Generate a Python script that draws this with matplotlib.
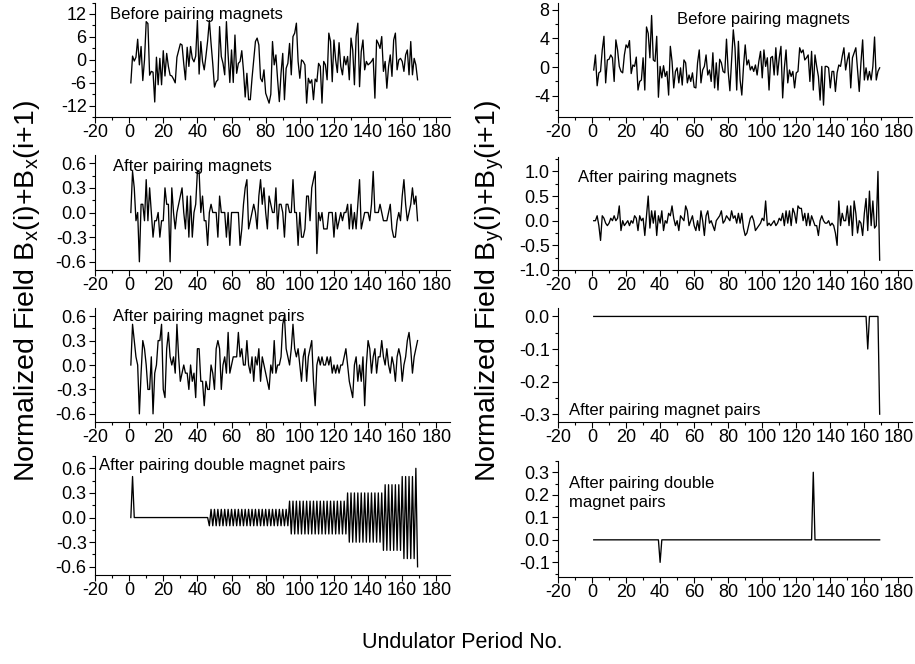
import numpy as np
import matplotlib.pyplot as plt
from matplotlib.ticker import MultipleLocator, FormatStrFormatter

plt.rcParams['font.family'] = ['Liberation Sans', 'DejaVu Sans']
plt.rcParams['mathtext.fontset'] = 'custom'
plt.rcParams['mathtext.rm'] = 'Liberation Sans'
plt.rcParams['axes.unicode_minus'] = False

# ---------------- field sums per undulator period ----------------
bx_before = [
    -6, 1, -0.3, 0.7, 5.4, -1.3, 3.5, -5.4, 0, 10,
    9.5, -4, -3, -3.2, -11, 0.7, -6.5, 0.4, -6.5, 2.4,
    -4.2, 1.7, -1.7, -4, -4.2, -5, -6, 0.7, 2.5, 4.2,
    3.9, -1, -5.2, 3.3, -1.7, 3.5, 0.4, -0.5, 1, 10.3,
    -3.7, 4.8, -0.4, -2.6, 1, 5, 10.3, 4.3, -1, -7.1,
    -5.7, -5.2, 8.7, 0.9, -0.9, -3.9, 10, 1.3, -5.9, 2.6,
    -5.9, 6.5, -3.5, -0.9, -0.4, 2.4, -2.8, -9.7, -3.5, -10.4,
    -10.4, -4.8, 0, 4.8, 5.7, 3.9, -4.8, -5.7, -2.6, -8.7,
    -10, -11.3, -9, 4.8, -1.3, 1.3, -5.2, -10.9, -3.5, 1.7,
    -10.4, -2.2, -0.9, 4.3, -3.9, 6.1, 7, 9.6, -0.4, -4.8,
    0, -0.4, -1.3, -11.3, -4.8, -6.1, -5.2, -10.4, -5, -5.7,
    -0.9, -1.7, -11.3, -0.4, -1.3, -5.2, 7, 4.8, -5.7, 5.2,
    0, -3.3, 4.5, -1.7, -3.9, 0.9, -1.3, 0.9, -5.2, 5.7,
    2.6, -6.5, 6.1, 9.6, -7, 2.2, 5.2, -2.6, -0.4, -1.3,
    -0.9, -0.4, 0.4, -10, 5.2, 4.3, 3, 6.1, -3, -0.4,
    -7.4, -1.7, 1.3, -4.3, 5.2, 7, -2.6, 0, 0.4, -0.4,
    -3, 1.3, 2.6, -3.9, 4.8, -3.9, 0.4, -1.3, -5.2,
]

bx_pair = [
    0, 0.5, 0.3, -0.1, 0, -0.6, 0.1, 0.1, -0.1, 0.4,
    -0.1, 0.3, 0, -0.3, -0.1, -0.1, 0, -0.3, -0.1, -0.1,
    0.3, 0.1, 0.1, -0.6, 0.3, 0, -0.2, 0, 0.1, 0.2,
    0.3, 0, -0.2, 0.2, -0.3, 0.2, -0.3, 0, 0.1, 0.5,
    0.5, 0, 0.2, -0.1, -0.1, -0.4, 0, 0.1, 0, 0,
    0, -0.3, 0.2, 0, 0, 0, -0.3, 0, -0.4, 0,
    0, 0, 0, 0, -0.4, -0.2, 0.1, 0.3, 0.4, -0.2,
    -0.1, 0, 0.1, 0, -0.2, 0.2, 0.4, 0.1, 0.3, 0,
    -0.2, 0.2, 0.1, 0, 0, 0.3, -0.2, 0.1, 0.1, 0,
    -0.3, 0.1, 0.1, 0, 0, 0.4, 0, 0, -0.4, 0,
    -0.3, -0.3, -0.2, 0.2, 0.2, -0.1, 0.3, 0.4, 0.5, -0.5,
    0, -0.1, 0, -0.2, -0.2, -0.2, 0, 0, 0, -0.3,
    0, -0.2, -0.1, 0, -0.1, 0, 0, 0.1, -0.2, 0.1,
    -0.2, 0, -0.2, 0.1, 0.4, -0.2, -0.1, 0, 0, 0,
    -0.1, 0.1, 0.5, 0, 0, 0, 0.1, 0, -0.1, -0.1,
    -0.1, 0, 0.1, -0.2, -0.3, -0.3, -0.1, 0, -0.1, 0.2,
    0.4, 0.1, -0.1, 0, 0.1, 0.3, 0.1, 0.2, -0.1,
]

bx_pairpair = [
    0, 0.5, 0.3, 0.1, 0, -0.6, -0.1, 0.3, 0.2, 0,
    -0.3, -0.3, 0.1, -0.6, -0.1, 0, 0.3, 0.3, 0.5, -0.3,
    -0.4, 0.2, 0.4, 0.1, 0, 0.1, -0.1, 0.5, 0.1, -0.2,
    -0.1, 0, -0.1, -0.1, -0.3, 0, -0.2, -0.1, -0.4, 0.2,
    0.2, -0.2, -0.2, -0.5, -0.2, -0.3, -0.3, 0, -0.1, -0.3,
    0.2, 0.3, 0.2, -0.3, 0, 0.1, -0.1, 0.4, -0.1, 0,
    0.1, 0.1, 0.1, 0.4, 0.1, 0.2, 0, 0, 0.3, 0,
    -0.1, 0.1, -0.2, 0.1, 0, 0.2, -0.2, 0.1, 0, -0.1,
    -0.2, -0.3, 0, -0.1, 0.3, -0.1, 0, 0, 0.1, 0.5,
    0.6, 0.2, 0.1, 0, 0.2, 0.5, 0.2, 0.1, 0.2, 0,
    -0.2, 0.1, 0.2, -0.2, 0.1, 0.2, 0.3, -0.2, -0.5, 0,
    0.1, 0, 0.1, 0, 0, 0.1, 0, 0.1, -0.1, 0,
    -0.1, 0, -0.1, 0, 0, 0.1, 0.2, 0, -0.2, -0.3,
    -0.4, 0, 0.1, -0.2, 0, -0.2, 0.1, -0.5, 0, 0.3,
    0.2, -0.1, 0.1, 0.2, -0.1, 0.1, 0.1, 0.3, 0.1, 0,
    0.2, 0, -0.1, 0.1, 0, -0.2, 0.1, 0.2, 0.1, -0.2,
    0, 0.1, 0.3, 0.4, 0.2, -0.1, 0.1, 0.2, 0.3,
]

bx_double = [
    0, 0.5, 0, 0, 0, 0, 0, 0, 0, 0,
    0, 0, 0, 0, 0, 0, 0, 0, 0, 0,
    0, 0, 0, 0, 0, 0, 0, 0, 0, 0,
    0, 0, 0, 0, 0, 0, 0, 0, 0, 0,
    0, 0, 0, 0, 0, 0, -0.1, 0.1, -0.1, 0.1,
    -0.1, 0.1, -0.1, 0.1, -0.1, 0.1, -0.1, 0.1, -0.1, 0.1,
    -0.1, 0.1, -0.1, 0.1, -0.1, 0.1, -0.1, 0.1, -0.1, 0.1,
    -0.1, 0.1, -0.1, 0.1, -0.1, 0.1, -0.1, 0.1, -0.1, 0.1,
    -0.1, 0.1, -0.1, 0.1, -0.1, 0.1, -0.1, 0.1, -0.1, 0.1,
    -0.1, 0.1, -0.1, 0.2, -0.2, 0.2, -0.2, 0.2, -0.2, 0.2,
    -0.2, 0.2, -0.2, 0.2, -0.2, 0.2, -0.2, 0.2, -0.2, 0.2,
    -0.2, 0.2, -0.2, 0.2, -0.2, 0.2, -0.2, 0.2, -0.2, 0.2,
    -0.2, 0.2, -0.2, 0.2, -0.2, 0.2, -0.2, 0.3, -0.3, 0.3,
    -0.3, 0.3, -0.3, 0.3, -0.3, 0.3, -0.3, 0.3, -0.3, 0.3,
    -0.3, 0.3, -0.3, 0.3, -0.3, 0.3, -0.3, 0.3, -0.4, 0.4,
    -0.4, 0.4, -0.4, 0.4, -0.4, 0.4, -0.4, 0.4, -0.4, 0.5,
    -0.5, 0.5, -0.5, 0.5, -0.5, 0.5, -0.5, 0.6, -0.6,
]

by_before = [
    -0.4, 1.7, -2.6, -0.8, -0.6, 2.4, 4.3, -2.2, 1, 1.1,
    1.7, 1.3, -2, 3.8, 2.4, 0.1, -0.6, -0.8, 1.7, 3.1,
    2.7, 3.7, -0.9, 0.3, 0.1, 1.4, -3.2, -2, -1.8, 1.3,
    -3.2, 5.6, 4.7, 1.3, 7.2, 1, 0.8, 4.3, -4.2, 0.1,
    -1.5, 0.2, -1.3, -0.6, -3.9, 2.9, 0.8, -2.9, -0.6, -0.1,
    -2.2, -0.1, -2.5, 1, 0.6, -2.2, -1.1, -2, -0.8, -2.8,
    -2.9, 0.6, 2.4, -2.2, -0.4, 0.1, 1.7, -1.1, -0.4, -2,
    2, -2.9, 0.6, -3.2, 1.1, 0.6, -0.6, -0.8, 3.9, -0.6,
    -3.3, 1, 5.2, 2.7, -3.2, 3.6, -1.8, -3.9, 0.1, 3.1,
    0.3, 1, -0.4, 0.1, -0.6, 0.3, -1.1, 0.8, 2.2, -1.5,
    2.4, 0.1, 1.3, -3.2, 1.3, 1.5, -1.1, 2.7, -1.1, 1.3,
    2.9, -4.3, -0.1, 2.4, -2.2, -0.4, -1.3, -0.6, -2.9, -0.8,
    -0.6, 2.7, 2, 2.4, 1, 1.3, 1.7, -2, 2.2, -3.2,
    1.7, 0.1, -1.3, -4.6, 0.1, -5.3, 0.1, 0.1, -0.1, -2.9,
    -0.6, -0.6, -3.4, -0.8, 0.3, 0.1, 1.5, 2.7, -0.4, 1,
    2, -2.9, 1.3, 2, 2.7, -0.4, -3.4, 0.6, 3.8, -1.8,
    -0.1, -1.8, -0.6, -1.8, 0.1, 4.2, -1.8, -0.6, -0.1,
]

by_pair = [
    0, 0, 0.1, -0.1, -0.4, 0.1, 0.05, -0.05, -0.1, -0.05,
    0.05, 0, 0.1, 0, 0.05, 0.3, -0.2, 0, -0.1, -0.05,
    0, -0.1, 0, -0.05, 0.1, 0.05, -0.2, 0.1, 0, 0.05,
    -0.3, 0.1, 0.5, -0.15, 0.2, -0.05, 0.2, -0.3, 0.1, -0.05,
    0.2, -0.2, 0, -0.05, 0.15, 0.1, 0.3, 0.05, -0.1, 0,
    -0.2, 0.1, 0.05, 0, 0.3, 0.2, -0.1, 0, 0.1, -0.1,
    -0.2, 0, -0.2, 0.2, 0, -0.3, 0.1, 0.2, -0.05, 0,
    -0.1, -0.2, 0, 0.05, 0.1, 0.2, -0.05, 0, 0.1, 0.05,
    0, 0.2, 0.05, 0.1, -0.05, 0.15, -0.05, 0.15, -0.15, -0.3,
    -0.25, -0.1, 0.05, 0.1, 0, -0.2, -0.15, -0.1, -0.05, 0.05,
    0, 0.4, -0.1, -0.05, -0.1, -0.05, 0, -0.1, -0.05, 0.05,
    0, 0.15, -0.1, 0.2, -0.05, 0.2, -0.1, 0.25, 0.15, -0.05,
    0.3, 0.25, 0.25, 0, 0.15, -0.1, 0.15, -0.1, 0.1, 0,
    -0.1, -0.1, -0.3, 0, 0.1, 0, -0.05, -0.05, 0, -0.1,
    -0.05, -0.1, -0.25, -0.5, 0.4, -0.1, 0.15, 0, 0, 0.3,
    -0.1, 0.3, -0.3, 0.4, 0.15, -0.25, 0, -0.05, -0.3, 0.15,
    0.45, -0.2, 0.6, -0.1, 0.4, -0.15, -0.1, 1.0, -0.8,
]

by_pairpair = [
    0, 0, 0, 0, 0, 0, 0, 0, 0, 0,
    0, 0, 0, 0, 0, 0, 0, 0, 0, 0,
    0, 0, 0, 0, 0, 0, 0, 0, 0, 0,
    0, 0, 0, 0, 0, 0, 0, 0, 0, 0,
    0, 0, 0, 0, 0, 0, 0, 0, 0, 0,
    0, 0, 0, 0, 0, 0, 0, 0, 0, 0,
    0, 0, 0, 0, 0, 0, 0, 0, 0, 0,
    0, 0, 0, 0, 0, 0, 0, 0, 0, 0,
    0, 0, 0, 0, 0, 0, 0, 0, 0, 0,
    0, 0, 0, 0, 0, 0, 0, 0, 0, 0,
    0, 0, 0, 0, 0, 0, 0, 0, 0, 0,
    0, 0, 0, 0, 0, 0, 0, 0, 0, 0,
    0, 0, 0, 0, 0, 0, 0, 0, 0, 0,
    0, 0, 0, 0, 0, 0, 0, 0, 0, 0,
    0, 0, 0, 0, 0, 0, 0, 0, 0, 0,
    0, 0, 0, 0, 0, 0, 0, 0, 0, 0,
    0, -0.1, 0, 0, 0, 0, 0, 0, -0.3,
]

by_double = [
    0, 0, 0, 0, 0, 0, 0, 0, 0, 0,
    0, 0, 0, 0, 0, 0, 0, 0, 0, 0,
    0, 0, 0, 0, 0, 0, 0, 0, 0, 0,
    0, 0, 0, 0, 0, 0, 0, 0, 0, -0.1,
    0, 0, 0, 0, 0, 0, 0, 0, 0, 0,
    0, 0, 0, 0, 0, 0, 0, 0, 0, 0,
    0, 0, 0, 0, 0, 0, 0, 0, 0, 0,
    0, 0, 0, 0, 0, 0, 0, 0, 0, 0,
    0, 0, 0, 0, 0, 0, 0, 0, 0, 0,
    0, 0, 0, 0, 0, 0, 0, 0, 0, 0,
    0, 0, 0, 0, 0, 0, 0, 0, 0, 0,
    0, 0, 0, 0, 0, 0, 0, 0, 0, 0,
    0, 0, 0, 0, 0, 0, 0, 0, 0, 0.3,
    0, 0, 0, 0, 0, 0, 0, 0, 0, 0,
    0, 0, 0, 0, 0, 0, 0, 0, 0, 0,
    0, 0, 0, 0, 0, 0, 0, 0, 0, 0,
    0, 0, 0, 0, 0, 0, 0, 0, 0,
]

stage_labels = ['Before pairing magnets', 'After pairing magnets',
                'After pairing magnet pairs', 'After pairing double magnet pairs']

# ---------------- layout (pixels, origin top-left) ----------------
W, H = 915, 664
fig = plt.figure(figsize=(W / 100, H / 100), dpi=100)


def add_panel(x0, top, x1, bottom):
    return fig.add_axes([x0 / W, 1 - bottom / H, (x1 - x0) / W, (bottom - top) / H])


LEFT = (95, 450)
RIGHT = (558, 912)

panels = [
    # data, columns, top, bottom, ylim, major, minor, fmt, label, (lx, ly)
    (bx_before, LEFT, 2.5, 117.3, (-15, 15), 6, 3, '%d', stage_labels[0], (0.042, 0.855)),
    (bx_pair, LEFT, 155, 270, (-0.7, 0.7), 0.3, 0.15, '%.1f', stage_labels[1], (0.05, 0.863)),
    (bx_pairpair, LEFT, 308, 422, (-0.7, 0.7), 0.3, 0.15, '%.1f', stage_labels[2], (0.05, 0.886)),
    (bx_double, LEFT, 456, 575, (-0.7, 0.75), 0.3, 0.15, '%.1f', stage_labels[3], (0.01, 0.88)),
    (by_before, RIGHT, 2.6, 117.3, (-7, 9), 4, 2, '%d', stage_labels[0], (0.335, 0.817)),
    (by_pair, RIGHT, 156.6, 270, (-1.0, 1.3), 0.5, 0.25, '%.1f', stage_labels[1], (0.057, 0.78)),
    (by_pairpair, RIGHT, 308.3, 422.3, (-0.325, 0.025), 0.1, 0.05, '%.1f', stage_labels[2], (0.032, 0.064)),
    (by_double, RIGHT, 461, 577, (-0.165, 0.35), 0.1, 0.05, '%.1f',
     'After pairing double\nmagnet pairs', (0.032, 0.606)),
]

for ys, (x0, x1), top, bottom, ylim, major, minor, fmt, label, (lx, ly) in panels:
    ax = add_panel(x0, top, x1, bottom)
    period = np.arange(1, len(ys) + 1)
    ax.plot(period, ys, color='black', lw=0.95)
    ax.set_xlim(-20, 188)
    ax.set_ylim(*ylim)
    ax.xaxis.set_major_locator(MultipleLocator(20))
    ax.xaxis.set_minor_locator(MultipleLocator(10))
    ax.yaxis.set_major_locator(MultipleLocator(major))
    ax.yaxis.set_minor_locator(MultipleLocator(minor))
    ax.yaxis.set_major_formatter(FormatStrFormatter(fmt))
    for side in ('top', 'right'):
        ax.spines[side].set_visible(False)
    for side in ('left', 'bottom'):
        ax.spines[side].set_linewidth(0.8)
    ax.tick_params(which='major', direction='out', length=4, width=0.8,
                   labelsize=13, pad=1)
    ax.tick_params(which='minor', direction='out', length=2.5, width=0.8)
    ax.tick_params(axis='y', pad=2)
    ax.text(lx, ly, label, transform=ax.transAxes, fontsize=12,
            va='baseline', ha='left', linespacing=1.3)

fig.text(27 / W, 1 - 291 / H, r'Normalized Field B$_\mathregular{x}$(i)+B$_\mathregular{x}$(i+1)',
         rotation=90, ha='center', va='center', fontsize=20.5)
fig.text(490 / W, 1 - 291 / H, r'Normalized Field B$_\mathregular{y}$(i)+B$_\mathregular{y}$(i+1)',
         rotation=90, ha='center', va='center', fontsize=20.5)
fig.text(462 / W, 1 - 642 / H, 'Undulator Period No.', ha='center', va='center', fontsize=15.5)

fig.savefig('out.png', dpi=100)
